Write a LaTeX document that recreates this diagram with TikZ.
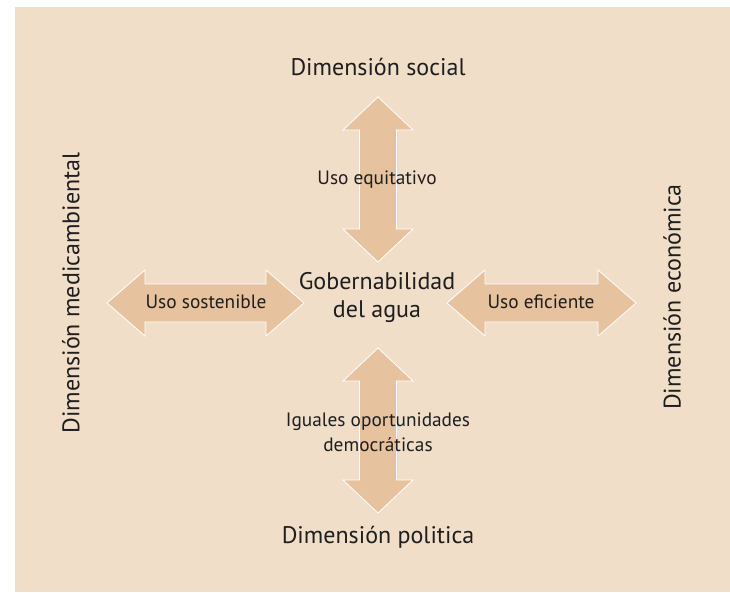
\documentclass[tikz,border=0pt]{standalone}
\usepackage{fontspec}
\setmainfont{PT Sans}
\usepackage{tikz}
\usetikzlibrary{calc, positioning}

\definecolor{panel}{HTML}{F1DEC9}
\definecolor{arrowfill}{HTML}{E7C29E}
\definecolor{ink}{HTML}{1E1E1E}

\tikzset{
  blockarrow/.style={fill=arrowfill, draw=white, line width=0.6pt, line join=miter},
  dimlabel/.style={text=ink, font=\fontsize{18}{22}\selectfont},
  uselabel/.style={text=ink, font=\fontsize{14.5}{18.5}\selectfont, align=center},
}

% horizontal double block arrow: x1, x2, y
\newcommand{\harrow}[3]{%
  \path[blockarrow] (#1,#3) -- ++(38,-33) -- ++(0,14) -- (#2-38,#3-19) -- ++(0,-14)
    -- (#2,#3) -- ++(-38,33) -- ++(0,-14) -- (#1+38,#3+19) -- ++(0,14) -- cycle;}
% vertical double block arrow: y1, y2, x
\newcommand{\varrow}[3]{%
  \path[blockarrow] (#3,#1) -- ++(35,33) -- ++(-16.5,0) -- (#3+18.5,#2-33) -- ++(16.5,0)
    -- (#3,#2) -- ++(-35,-33) -- ++(16.5,0) -- (#3-18.5,#1+33) -- ++(-16.5,0) -- cycle;}

\begin{document}
\begin{tikzpicture}[x=0.75pt, y=-0.75pt, >=latex]
  \useasboundingbox (0,0) rectangle (730,592);
  \fill [panel] (15,7) rectangle (730,592);

  % arrows
  \varrow{97}{262}{378}
  \varrow{348}{513}{378}
  \harrow{107}{304}{303}
  \harrow{447}{636}{303}

  % centre
  \node (gob) at (377,297) [dimlabel, align=center] {Gobernabilidad\\[-1pt]del agua};

  % dimensions
  \node (social) at (378,67) [dimlabel] {Dimensión social};
  \node (politica) at (378,537) [dimlabel] {Dimensión politica};
  \node (ambiental) at (71,293) [dimlabel, rotate=90] {Dimensión medicambiental};
  \node (economica) at (672,297) [dimlabel, rotate=90] {Dimensión económica};

  % uses
  \node (equit) at (377,180) [uselabel] {Uso equitativo};
  \node (sost) at (206,302) [uselabel] {Uso sostenible};
  \node (efic) at (541,302) [uselabel] {Uso eficiente};
  \node (democ) at (378,432) [uselabel] {Iguales oportunidades\\democráticas};
\end{tikzpicture}
\end{document}
